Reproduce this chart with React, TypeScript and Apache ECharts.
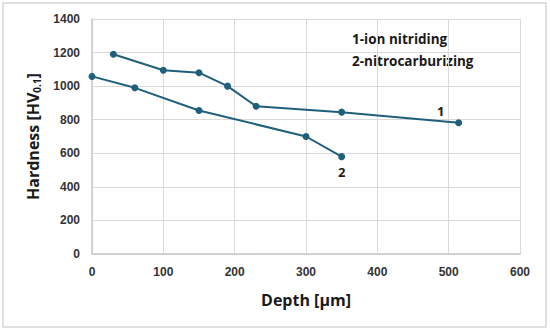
import React, { useEffect, useRef } from "react";
import * as echarts from "echarts";

const ionNitriding: [number, number][] = [
  [30, 1190],
  [100, 1095],
  [150, 1080],
  [190, 1000],
  [230, 880],
  [350, 845],
  [514, 782],
];
const nitrocarburizing: [number, number][] = [
  [0, 1058],
  [60, 990],
  [150, 855],
  [300, 700],
  [350, 580],
];
const legendLines = ["1-ion nitriding", "2-nitrocarburizing"];
const seriesTags = ["1", "2"];

const COLOR = "#1f5f7b";
const FONT = "Liberation Sans";

export default function App() {
  const ref = useRef<HTMLDivElement>(null);
  useEffect(() => {
    if (!ref.current) return;
    const chart = echarts.init(ref.current, null, { renderer: "svg" });
    const tagLabel = (tag: string, pos: string, offset: number[]) => ({
      show: true,
      position: pos,
      offset,
      formatter: tag,
      color: "#1a1a1a",
      fontFamily: "Open Sans",
      fontWeight: "bold",
      fontSize: 13,
    });
    const s1 = ionNitriding.map((p, i) =>
      i === ionNitriding.length - 1
        ? { value: p, label: tagLabel(seriesTags[0], "top", [-18, 3]) }
        : { value: p }
    );
    const s2 = nitrocarburizing.map((p, i) =>
      i === nitrocarburizing.length - 1
        ? { value: p, label: tagLabel(seriesTags[1], "bottom", [0, 0]) }
        : { value: p }
    );
    const plain = (v: number) => String(v);
    chart.setOption({
      animation: false,
      grid: { left: 92, right: 30, top: 19, bottom: 79, containLabel: false },
      xAxis: {
        type: "value",
        min: 0,
        max: 600,
        interval: 100,
        name: "Depth [µm]",
        nameLocation: "middle",
        nameGap: 38,
        nameTextStyle: { fontFamily: "Open Sans", fontWeight: "bold", fontSize: 16, color: "#1a1a1a" },
        axisLine: { show: true, lineStyle: { color: "#c8c8c8", width: 1.5 } },
        axisTick: { show: false },
        axisLabel: { margin: 12, formatter: plain, fontFamily: FONT, fontWeight: "bold", fontSize: 12, color: "#333" },
        splitLine: { show: true, lineStyle: { color: "#d9d9d9", width: 1 } },
      },
      yAxis: {
        type: "value",
        min: 0,
        max: 1400,
        interval: 200,
        name: "{a|Hardness [HV}{b|0.1}{a|]}",
        nameLocation: "middle",
        nameGap: 50,
        nameRotate: 90,
        nameTextStyle: {
          rich: {
            a: { fontFamily: "Open Sans", fontWeight: "bold", fontSize: 16, color: "#1a1a1a" },
            b: { fontFamily: "Open Sans", fontWeight: "bold", fontSize: 10, color: "#1a1a1a", verticalAlign: "bottom", padding: [8, 0, 0, 0] },
          },
        },
        axisLine: { show: true, lineStyle: { color: "#c8c8c8", width: 1.5 } },
        axisTick: { show: false },
        axisLabel: { margin: 12, formatter: plain, fontFamily: FONT, fontWeight: "bold", fontSize: 12, color: "#333" },
        splitLine: { show: true, lineStyle: { color: "#d9d9d9", width: 1 } },
      },
      graphic: [
        {
          type: "rect",
          shape: { x: 3, y: 3, width: 543, height: 324 },
          style: { fill: "none", stroke: "#d6d6d6", lineWidth: 1.5 },
          silent: true,
        },
        {
          type: "text",
          left: 352,
          top: 28,
          style: {
            text: legendLines.join("\n"),
            fontFamily: "Open Sans",
            fontWeight: "bold",
            fontSize: 13.5,
            lineHeight: 22,
            fill: "#1a1a1a",
          },
        },
      ],
      series: [
        {
          name: legendLines[0],
          type: "line",
          data: s1,
          symbol: "circle",
          symbolSize: 7,
          lineStyle: { color: COLOR, width: 2 },
          itemStyle: { color: COLOR },
        },
        {
          name: legendLines[1],
          type: "line",
          data: s2,
          symbol: "circle",
          symbolSize: 7,
          lineStyle: { color: COLOR, width: 2 },
          itemStyle: { color: COLOR },
        },
      ],
    });
    return () => chart.dispose();
  }, []);
  return (
    <div
      ref={ref}
      style={{ position: "fixed", left: 0, top: 0, width: 550, height: 333, background: "#fff" }}
    />
  );
}
